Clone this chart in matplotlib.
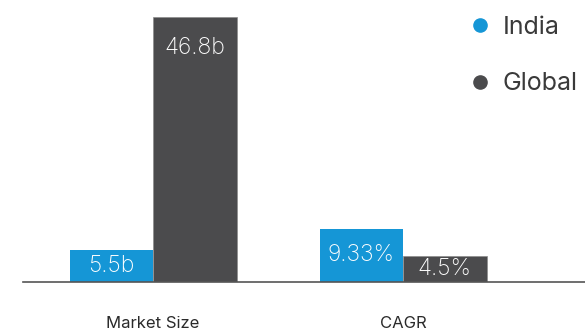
import numpy as np
import matplotlib
matplotlib.use("Agg")
import matplotlib.pyplot as plt
from matplotlib.lines import Line2D

plt.rcParams["font.family"] = ["Inter", "DejaVu Sans"]

# ---------------------------------------------------------------------------
# Data
# ---------------------------------------------------------------------------
categories = ["Market Size", "CAGR"]
series_names = ["India", "Global"]
india_values = [5.5, 9.33]
global_values = [46.8, 4.5]
india_labels = ["5.5b", "9.33%"]
global_labels = ["46.8b", "4.5%"]

BLUE = "#1596d6"
GRAY = "#4b4b4d"

# ---------------------------------------------------------------------------
# Plot
# ---------------------------------------------------------------------------
W, H = 585, 331
fig = plt.figure(figsize=(W / 100, H / 100), dpi=100)
ax = fig.add_axes([23 / W, (H - 281.5) / H, (W - 23) / W, 281.5 / H])

x = np.arange(len(categories))
width = 0.334

b1 = ax.bar(x - width / 2, india_values, width, color=BLUE, label=series_names[0])
b2 = ax.bar(x + width / 2, global_values, width, color=GRAY, label=series_names[1],
            edgecolor="#8c8c8c", linewidth=0.5)

ax.set_xlim(-0.52, 1.728)
ax.set_ylim(0, 49.8)

# value labels inside the top of each bar
max_off = 5.45
for bars, labels in [(b1, india_labels), (b2, global_labels)]:
    for rect, lab in zip(bars, labels):
        h = rect.get_height()
        yc = h - min(max_off, h / 2)
        ax.text(rect.get_x() + rect.get_width() / 2, yc, lab, color="white",
                ha="center", va="center", fontsize=16.5, fontweight="light")

for spine in ["top", "right", "left"]:
    ax.spines[spine].set_visible(False)
ax.spines["bottom"].set_color("#555555")
ax.spines["bottom"].set_linewidth(1.2)
ax.set_yticks([])
ax.set_xticks(x)
ax.set_xticklabels(categories, fontsize=12, color="#2a2a2a")
ax.tick_params(axis="x", length=0, pad=24.5)

handles = [
    Line2D([], [], marker="o", linestyle="none", markersize=9.5, color=BLUE),
    Line2D([], [], marker="o", linestyle="none", markersize=9.5, color=GRAY),
]
fig.legend(handles, series_names, loc="upper left", bbox_to_anchor=(467.5 / W, 1 - 15.5 / H),
           frameon=False, fontsize=18, labelspacing=1.35, handletextpad=0.42,
           handlelength=1.0, borderpad=0, borderaxespad=0, labelcolor="#3a3a3a")

fig.savefig("out.png", dpi=100)
